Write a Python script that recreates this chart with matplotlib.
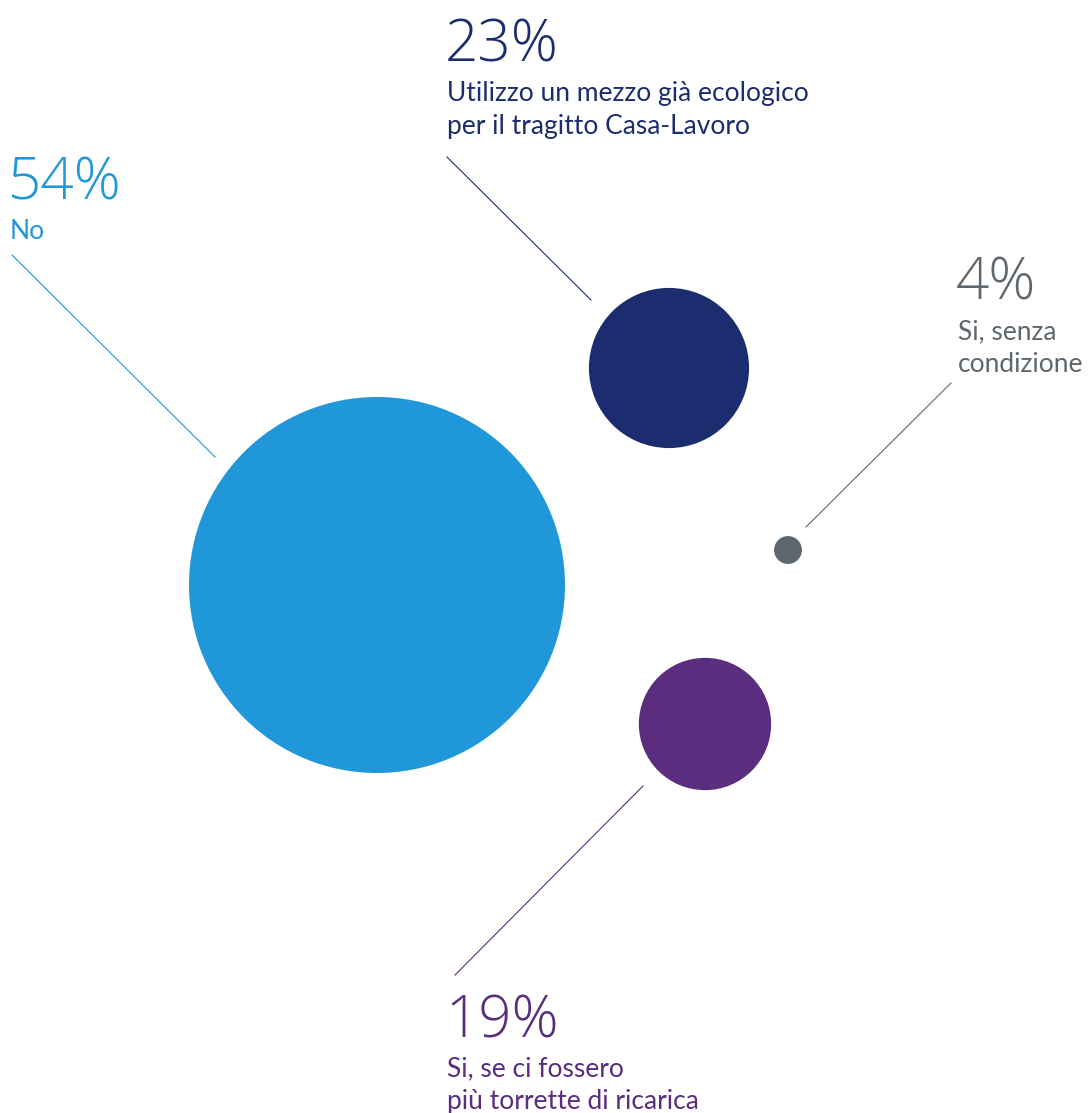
import matplotlib
matplotlib.use("Agg")
import matplotlib.pyplot as plt
from matplotlib.patches import Circle

# ------------------------------------------------------------------
# Data
# ------------------------------------------------------------------
values = [54, 23, 4, 19]
pct_labels = ["54%", "23%", "4%", "19%"]
descriptions = [
    "No",
    "Utilizzo un mezzo già ecologico\nper il tragitto Casa-Lavoro",
    "Si, senza\ncondizione",
    "Si, se ci fossero\npiù torrette di ricarica",
]
colors = ["#2097D8", "#1B2D6E", "#5F676E", "#5A2D7E"]

# layout (pixel space, y down)
centers = [(377, 585), (669, 368), (788, 550), (705, 724)]
leaders = [((12, 255), (215, 457)),
           ((447, 157), (591, 300)),
           ((951, 383), (806, 527)),
           ((643, 786), (455, 975))]
text_pos = [(10, 200), (447, 62), (958, 300), (447, 1037)]
R_PER_PCT = 188 / 54

W, H = 1089, 1113
fig = plt.figure(figsize=(W / 100, H / 100), dpi=100)
ax = fig.add_axes([0, 0, 1, 1])
ax.set_xlim(0, W)
ax.set_ylim(H, 0)
ax.set_aspect("equal")
ax.axis("off")

for val, (cx, cy), col in zip(values, centers, colors):
    ax.add_patch(Circle((cx, cy), val * R_PER_PCT, facecolor=col,
                        edgecolor="none"))

for (p0, p1), col in zip(leaders, colors):
    ax.plot([p0[0], p1[0]], [p0[1], p1[1]], color=col, lw=0.8)

for pct, desc, (tx, ty), col in zip(pct_labels, descriptions, text_pos, colors):
    ax.text(tx - 2, ty, pct, color=col, fontsize=42, family="Open Sans",
            fontweight=300, va="baseline", ha="left")
    for i, line in enumerate(desc.split("\n")):
        ax.text(tx, ty + 39 + i * 33, line, color=col, fontsize=19,
                family="Lato", va="baseline", ha="left")

fig.savefig("out.png", dpi=100)
